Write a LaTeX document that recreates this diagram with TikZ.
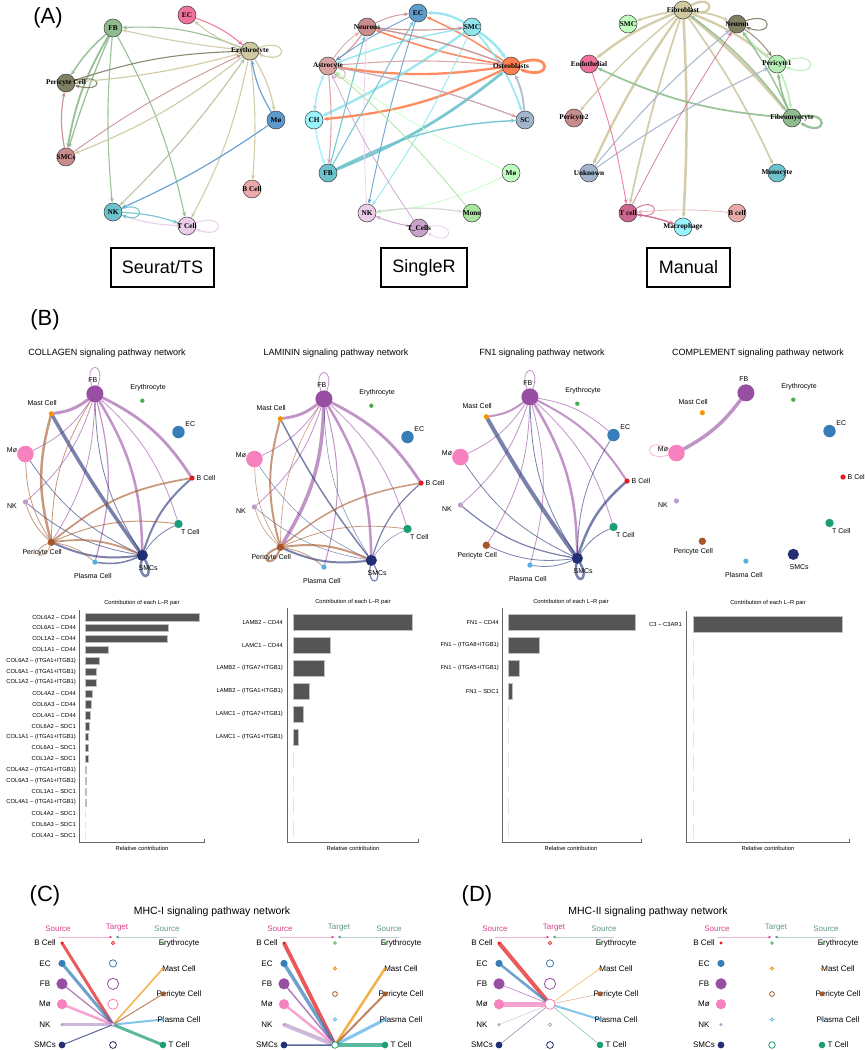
\documentclass[tikz,border=0pt]{standalone}
\usepackage{fontspec}
\setmainfont{Liberation Sans}
\newfontfamily\tnrfont{Liberation Serif}
\usetikzlibrary{arrows.meta,calc,positioning,backgrounds}
% cell type palette (B--D)
\definecolor{cb}{HTML}{E41A1C}
\definecolor{cec}{HTML}{377EB8}
\definecolor{cery}{HTML}{4DAF4A}
\definecolor{cfb}{HTML}{984EA3}
\definecolor{cmast}{HTML}{F29403}
\definecolor{cmo}{HTML}{F781BF}
\definecolor{cnk}{HTML}{BC9DCC}
\definecolor{cper}{HTML}{A65628}
\definecolor{cpla}{HTML}{54B0E4}
\definecolor{csmc}{HTML}{222F75}
\definecolor{ct}{HTML}{1B9E77}
% igraph colours (A)
\definecolor{aGreen}{HTML}{8FBC8F}
\definecolor{aPink}{HTML}{F0729A}
\definecolor{aTan}{HTML}{CFC9A0}
\definecolor{aOlive}{HTML}{807F63}
\definecolor{aBlue}{HTML}{5B9BD0}
\definecolor{aRose}{HTML}{C98C8C}
\definecolor{aBlush}{HTML}{EBA9A9}
\definecolor{aTeal}{HTML}{6CC3CC}
\definecolor{aLilac}{HTML}{EBCDEB}
\definecolor{aSteel}{HTML}{5E9CCB}
\definecolor{aCyan}{HTML}{8EE5EE}
\definecolor{aAqua}{HTML}{98F5FF}
\definecolor{aRoseB}{HTML}{D9A3A3}
\definecolor{aCoral}{HTML}{FF7F50}
\definecolor{aSlate}{HTML}{A2B5CD}
\definecolor{aMint}{HTML}{C1FFC1}
\definecolor{aMoss}{HTML}{A8E6A0}
\definecolor{aMauve}{HTML}{C8A2C8}
\definecolor{aPale}{HTML}{B4EEB4}
\definecolor{aRaspb}{HTML}{CD6690}
\definecolor{srcpink}{HTML}{D9418E}
\definecolor{srcteal}{HTML}{5F9A8F}
\definecolor{barfill}{HTML}{555555}
% fonts
\newcommand\panelfont{\fontsize{22}{26}\selectfont}
\newcommand\methodfont{\fontsize{18}{21}\selectfont}
\newcommand\annfont{\tnrfont\bfseries\fontsize{7.3}{8}\selectfont}
\newcommand\netfont{\fontsize{7}{8}\selectfont}
\newcommand\titlefont{\fontsize{9}{11}\selectfont}
\newcommand\barfont{\fontsize{5.8}{7}\selectfont}
\newcommand\hierfont{\fontsize{8}{9.5}\selectfont}
\newcommand\hiertitlefont{\fontsize{10.5}{12}\selectfont}
\tikzset{
  panel/.style={font=\panelfont,inner sep=0pt},
  method/.style={draw,line width=1.1pt,minimum width=#1,minimum height=39pt,font=\methodfont,inner sep=0pt},
  anode/.style={circle,draw=black!75,line width=0.5pt,fill=#1,minimum size=18pt,inner sep=0pt},
  alab/.style={font=\annfont,inner sep=0pt},
  aedge/.style={draw=#1,opacity=0.9,line width=1.1pt,->},
  nettitle/.style={font=\titlefont,inner sep=0pt},
  cnode/.style={circle,fill=#1,inner sep=0pt},
  clab/.style={font=\netfont,inner sep=0pt},
  bedge/.style={draw=#1,opacity=0.6,line cap=round},
  bartitle/.style={font=\barfont,inner sep=0pt},
  barlab/.style={font=\barfont,inner sep=0pt,anchor=east},
  bar/.style={fill=barfill,draw=black!25,line width=0.4pt},
  faintbar/.style={fill=black!10},
  axisline/.style={draw=black!60,line width=0.7pt},
  srcdot/.style={circle,fill=#1,inner sep=0pt},
  tgtdot/.style={circle,draw=#1,fill=white,line width=0.8pt,inner sep=0pt},
  hlab/.style={font=\hierfont,inner sep=0pt},
  hhead/.style={font=\hierfont,inner sep=0pt,text=#1},
  hedge/.style={draw=#1,opacity=0.72},
  pinkarrow/.style={draw=srcpink!40,line width=1pt,-{Latex[length=3pt,width=3pt,color=srcpink]}},
  tealarrow/.style={draw=srcteal!45,line width=1pt,-{Latex[length=3pt,width=3pt,color=srcteal]}},
}
\begin{document}
\begin{tikzpicture}[x=1pt,y=-1pt,>={Stealth[length=5pt,width=4pt]}]
\useasboundingbox (0,0) rectangle (865,1050);
\begin{scope}[on background layer]
\fill[white] (0,0) rectangle (865,1050);
\end{scope}

%% (A) networks from three annotations
\node[panel] (lab-a) at (48,18) {(A)};
% Seurat/TS
\node[anode=aGreen,label={[alab]center:FB}] (sfb) at (113,28) {};
\node[anode=aPink,label={[alab]center:EC}] (sec) at (187,15) {};
\node[anode=aTan,label={[alab]center:Erythrocyte}] (sery) at (250,51) {};
\node[anode=aOlive,label={[alab]center:Pericyte Cell}] (sper) at (66,83) {};
\node[anode=aBlue,label={[alab]center:Mø}] (smo) at (276,120) {};
\node[anode=aRose,label={[alab]center:SMCs}] (ssmc) at (66,157) {};
\node[anode=aBlush,label={[alab]center:B Cell}] (sb) at (252,189) {};
\node[anode=aTeal,label={[alab]center:NK}] (snk) at (113,212) {};
\node[anode=aLilac,label={[alab]center:T Cell}] (st) at (187,226) {};
\node[method=103pt] (box-seurat) at (162.5,267.5) {Seurat/TS};
% SingleR
\node[anode=aSteel,label={[alab]center:EC}] (rec) at (418,13) {};
\node[anode=aRose,label={[alab]center:Neurons}] (rneu) at (367,27) {};
\node[anode=aCyan,label={[alab]center:SMC}] (rsmc) at (472,27) {};
\node[anode=aRoseB,label={[alab]center:Astrocyte}] (rast) at (328,66) {};
\node[anode=aCoral,label={[alab]center:Osteoblasts}] (rost) at (511,66) {};
\node[anode=aAqua,label={[alab]center:CH}] (rch) at (314,120) {};
\node[anode=aSlate,label={[alab]center:SC}] (rsc) at (525,120) {};
\node[anode=aTeal,label={[alab]center:FB}] (rfb) at (328,173) {};
\node[anode=aMint,label={[alab]center:Mø}] (rmo) at (511,173) {};
\node[anode=aLilac,label={[alab]center:NK}] (rnk) at (367,213) {};
\node[anode=aMoss,label={[alab]center:Mono}] (rmono) at (472,213) {};
\node[anode=aMauve,label={[alab]center:T\_Cells}] (rt) at (419,228) {};
\node[method=86pt] (box-singler) at (424,267.5) {SingleR};
% Manual
\node[anode=aTan,label={[alab]center:Fibroblast}] (mfib) at (683,10) {};
\node[anode=aMint,label={[alab]center:SMC}] (msmc) at (628,24) {};
\node[anode=aOlive,label={[alab]center:Neuron}] (mneu) at (737,24) {};
\node[anode=aPink,label={[alab]center:Endothelial}] (mendo) at (589,64) {};
\node[anode=aPale,label={[alab]center:Pericyte1}] (mper1) at (777,64) {};
\node[anode=aRose,label={[alab]center:Pericyte2}] (mper2) at (574,118) {};
\node[anode=aGreen,label={[alab]center:Fibromyocyte}] (mfmy) at (792,118) {};
\node[anode=aSlate,label={[alab]center:Unknown}] (munk) at (589,173) {};
\node[anode=aTeal,label={[alab]center:Monocyte}] (mmono) at (777,173) {};
\node[anode=aRaspb,label={[alab]center:T cell}] (mt) at (628,213) {};
\node[anode=aBlush,label={[alab]center:B cell}] (mb) at (737,213) {};
\node[anode=aAqua,label={[alab]center:Macrophage}] (mmac) at (683,227) {};
\node[method=83pt] (box-manual) at (688.5,267.5) {Manual};

\begin{scope}[on background layer]
% Seurat/TS edges
\draw[aedge=aGreen,line width=1.5pt] (sfb) to[bend right=8] (sper);
\draw[aedge=aGreen,line width=1.9pt] (sfb) to[bend right=10] (ssmc);
\draw[aedge=aGreen,line width=1.3pt] (sfb) to[bend right=3] (ssmc);
\draw[aedge=aGreen] (sfb) to[bend right=5] (snk);
\draw[aedge=aGreen] (sfb) to[bend left=8] (st);
\draw[aedge=aGreen] (sery) to[bend right=12] (sfb);
\draw[aedge=aTan] (sery) to[bend left=3] (sfb);
\draw[aedge=aPink] (sec) to[bend left=10] (sery);
\draw[aedge=aTan] (sery) to[bend left=10] (sec);
\draw[aedge=aTan] (sery) to[out=20,in=-20,min distance=32pt] (sery);
\draw[aedge=aOlive] (sper) to[out=15,in=-15,min distance=30pt] (sper);
\draw[aedge=aTan,line width=1.2pt] (sery) to[bend left=5] (sper);
\draw[aedge=aOlive] (sper) to[bend left=8] (sery);
\draw[aedge=aRose,line width=1.2pt] (ssmc) to[bend left=10] (sper);
\draw[aedge=aRose,line width=0.9pt] (ssmc) to[bend left=5] (sery);
\draw[aedge=aTan,line width=1.2pt] (sery) to[bend left=8] (ssmc);
\draw[aedge=aTeal,line width=0.8pt] (snk) to[bend right=5] (sery);
\draw[aedge=aTan] (sery) to[bend left=5] (snk);
\draw[aedge=aBlue,line width=1.2pt] (smo) to[bend left=10] (sery);
\draw[aedge=aTan,line width=1.2pt] (sery) to[bend left=10] (smo);
\draw[aedge=aTan] (sery) to[bend left=5] (sb);
\draw[aedge=aTan] (sery) to[bend left=8] (st);
\draw[aedge=aBlue,line width=1.2pt] (smo) to[bend left=5] (snk);
\draw[aedge=aTeal,line width=1.2pt] (snk) to[bend left=8] (st);
\draw[aedge=aLilac,line width=1.2pt] (st) to[bend left=8] (snk);
\draw[aedge=aTeal] (snk) to[out=20,in=-20,min distance=25pt] (snk);
\draw[aedge=aLilac] (st) to[out=20,in=-20,min distance=32pt] (st);
% SingleR edges
\draw[aedge=aCoral,line width=2.8pt] (rost) to[out=20,in=-20,min distance=35pt] (rost);
\draw[aedge=aCoral,line width=2.3pt] (rost) to[bend left=8] (rast);
\draw[aedge=aCoral,line width=2.3pt] (rost) to[bend left=10] (rch);
\draw[aedge=aCoral,line width=1.7pt] (rost) to[bend left=5] (rneu);
\draw[aedge=aCoral,line width=1.5pt] (rost) to[bend right=5] (rec);
\draw[aedge=aCyan,line width=2.5pt] (rsmc) to[bend left=10] (rost);
\draw[aedge=aCyan,line width=2.3pt] (rsmc) to[bend left=5] (rch);
\draw[aedge=aCyan,line width=2.3pt] (rsmc) to[bend right=15] (rec);
\draw[aedge=aCyan,line width=1.4pt] (rsmc) to[bend right=5] (rast);
\draw[aedge=aCyan,line width=0.9pt] (rsmc) to[bend left=5] (rnk);
\draw[aedge=aCyan,line width=1.7pt] (rsmc) to[bend left=10] (rsc);
\draw[aedge=aTeal,line width=2.8pt] (rfb) to[bend right=8] (rost);
\draw[aedge=aTeal,line width=1.4pt] (rfb) to[bend left=12] (rsc);
\draw[aedge=aTeal] (rfb) to (rneu);
\draw[aedge=aTeal] (rfb) to (rec);
\draw[aedge=aSlate,line width=1.7pt] (rsc) to[bend right=10] (rost);
\draw[aedge=aSlate] (rsc) to[bend right=5] (rast);
\draw[aedge=aRoseB,line width=0.9pt] (rast) to[bend left=5] (rsc);
\draw[aedge=aRoseB,line width=0.9pt] (rast) to[bend left=10] (rneu);
\draw[aedge=aRoseB,line width=0.9pt] (rast) to[bend right=10] (rch);
\draw[aedge=aRoseB] (rast) to[bend left=5] (rfb);
\draw[aedge=aRoseB,line width=0.9pt] (rast) to[out=-10,in=-50,min distance=15pt] (rast);
\draw[aedge=aRoseB] (rast) to[bend left=5] (rost);
\draw[aedge=aRose] (rneu) to[bend left=10] (rast);
\draw[aedge=aRose] (rneu) to[bend right=5] (rsmc);
\draw[aedge=aRose,line width=1.4pt] (rneu) to[bend left=5] (rost);
\draw[aedge=aRose,line width=0.9pt] (rneu) to[bend left=10] (rec);
\draw[aedge=aSteel,line width=0.9pt] (rec) to[bend right=3] (rnk);
\draw[aedge=aSteel,line width=0.9pt] (rec) to[bend right=5] (rast);
\draw[aedge=aAqua,line width=1.4pt] (rch) to[bend left=10] (rast);
\draw[aedge=aAqua,line width=1.4pt] (rch) to[bend right=5] (rfb);
\draw[aedge=aMint,line width=0.8pt] (rmo) to[bend left=5] (rast);
\draw[aedge=aMint,line width=0.8pt] (rmo) to[bend left=10] (rnk);
\draw[aedge=aMoss,line width=0.9pt] (rmono) to[bend right=5] (rast);
\draw[aedge=aMoss,line width=0.9pt] (rmono) to[bend right=8] (rnk);
\draw[aedge=aLilac,line width=0.8pt] (rnk) to[bend left=8] (rmono);
\draw[aedge=aLilac,line width=0.8pt] (rnk) to[bend left=3] (rneu);
\draw[aedge=aLilac,line width=0.8pt] (rnk) to[bend right=5] (rt);
\draw[aedge=aMauve,line width=0.8pt] (rt) to[bend left=5] (rast);
\draw[aedge=aMauve,line width=0.8pt] (rt) to[bend left=5] (rnk);
\draw[aedge=aLilac,line width=0.8pt] (rt) to[out=10,in=-30,min distance=30pt] (rt);
% Manual edges
\draw[aedge=aTan,line width=1.7pt] (mfib) to[bend right=5] (msmc);
\draw[aedge=aTan,line width=1.7pt] (mfib) to[bend left=8] (mneu);
\draw[aedge=aTan,line width=2.3pt] (mfib) to[bend right=8] (mendo);
\draw[aedge=aTan,line width=1.4pt] (mfib) to[bend right=5] (mper2);
\draw[aedge=aTan,line width=2.3pt] (mfib) to[bend right=5] (munk);
\draw[aedge=aTan,line width=1.7pt] (mfib) to[bend right=3] (mt);
\draw[aedge=aTan,line width=2.5pt] (mfib) to[bend left=3] (mmac);
\draw[aedge=aTan,line width=1.7pt] (mfib) to[bend left=5] (mmono);
\draw[aedge=aTan,line width=2.3pt] (mfib) to[bend left=8] (mper1);
\draw[aedge=aTan,line width=2.8pt] (mfib) to[bend left=5] (mfmy);
\draw[aedge=aTan,line width=2.3pt] (mfib) to[out=30,in=-10,min distance=25pt] (mfib);
\draw[aedge=aOlive] (mneu) to[out=20,in=-20,min distance=30pt] (mneu);
\draw[aedge=aOlive,line width=0.9pt] (mneu) to[bend left=10] (mper1);
\draw[aedge=aPale,line width=1.4pt] (mper1) to[bend left=8] (mneu);
\draw[aedge=aPale] (mper1) to[out=20,in=-20,min distance=35pt] (mper1);
\draw[aedge=aPale,line width=1.7pt] (mper1) to[bend left=8] (mfmy);
\draw[aedge=aGreen,line width=1.7pt] (mfmy) to[bend left=8] (mper1);
\draw[aedge=aGreen,line width=1.4pt] (mfmy) to[bend right=5] (mneu);
\draw[aedge=aGreen,line width=1.4pt] (mfmy) to[bend right=8] (mfib);
\draw[aedge=aGreen,line width=1.7pt] (mfmy) to[bend left=10] (mendo);
\draw[aedge=aGreen,line width=2.3pt] (mfmy) to[out=10,in=-30,min distance=30pt] (mfmy);
\draw[aedge=aSlate] (munk) to[bend left=5] (mneu);
\draw[aedge=aSlate] (munk) to[bend left=5] (mper1);
\draw[aedge=aPink,line width=0.9pt] (mendo) to[bend left=5] (mt);
\draw[aedge=aRaspb,line width=0.7pt] (mt) to[bend left=3] (mneu);
\draw[aedge=aRaspb,line width=0.9pt] (mt) to[out=30,in=-10,min distance=25pt] (mt);
\draw[aedge=aRaspb,line width=1.4pt] (mt) to[bend left=5] (mmac);
\draw[aedge=aBlush,line width=0.7pt] (mb) to[bend right=5] (mt);
\end{scope}

%% (B) circle plots per pathway
\node[panel] (lab-b) at (45,320) {(B)};
\foreach \k/\cx/\cy/\ttl in {col/107/478/COLLAGEN,lam/336/483/LAMININ,fn/542/481/FN1,cmp/758/477/COMPLEMENT}{
  \coordinate (\k-c) at (\cx,\cy);
  \node[nettitle] (\k-title) at (\cx,353) {\ttl\ signaling pathway network};
  \foreach \n/\i/\r/\lab in {b/0/2.6/B Cell,ec/1/6.2/EC,ery/2/2.2/Erythrocyte,fb/3/8.5/FB,mast/4/2.6/Mast Cell,mo/5/8.3/Mø,nk/6/2.6/NK,per/7/3.7/Pericyte Cell,pla/8/2.6/Plasma Cell,smc/9/5.6/SMCs,t/10/4.2/T Cell}{
    \pgfmathsetmacro\ang{\i*360/11}
    \node[cnode=c\n,minimum size=\r*2pt] (\k-\n) at ($(\k-c)+(\ang:85pt)$) {};
    \node[clab] (\k-\n-lab) at ($(\k-c)+(\ang:99pt)$) {\lab};
  }
}
\begin{scope}[on background layer]
% COLLAGEN
\foreach \t/\w in {mast/3,mo/0.8,nk/0.8,per/0.8,pla/1.2,smc/2.5,t/0.8,b/2.8}
  \draw[bedge=cfb,line width=\w pt] (col-fb) to[bend left=15] (col-\t);
\foreach \t/\w in {mo/0.8,nk/0.8,per/2,pla/1.5,t/0.8,b/2,fb/0.8}
  \draw[bedge=csmc,line width=\w pt] (col-smc) to[bend left=15] (col-\t);
\draw[bedge=csmc,line width=3.5pt] (col-smc) to[bend left=3] (col-mast);
\foreach \t/\w in {mast/2.5,mo/0.8,nk/0.8,fb/0.8,b/1.8,t/1,smc/1.8,pla/0.8}
  \draw[bedge=cper,line width=\w pt] (col-per) to[bend left=15] (col-\t);
\draw[bedge=cfb,line width=0.8pt] (col-fb) to[out=70,in=110,min distance=26pt] (col-fb);
\draw[bedge=csmc,line width=2.5pt] (col-smc) to[out=-60,in=-100,min distance=22pt] (col-smc);
\draw[bedge=cper,line width=0.8pt] (col-per) to[out=-110,in=-160,min distance=20pt] (col-per);
% LAMININ
\foreach \t/\w in {mast/2.8,mo/0.8,nk/0.8,per/3.5,pla/1,smc/2.5,t/0.8,b/2.8}
  \draw[bedge=cfb,line width=\w pt] (lam-fb) to[bend left=15] (lam-\t);
\foreach \t/\w in {mo/0.5,nk/0.5,per/2,t/0.5,b/1.2,fb/0.5}
  \draw[bedge=csmc,line width=\w pt] (lam-smc) to[bend left=15] (lam-\t);
\draw[bedge=csmc,line width=1.5pt] (lam-smc) to[bend left=5] (lam-mast);
\foreach \t/\w in {mast/2,mo/0.6,nk/0.6,fb/0.6,b/1.5,t/0.8,smc/2,pla/0.8}
  \draw[bedge=cper,line width=\w pt] (lam-per) to[bend left=15] (lam-\t);
\draw[bedge=cfb,line width=0.8pt] (lam-fb) to[out=70,in=110,min distance=26pt] (lam-fb);
\draw[bedge=csmc,line width=1.2pt] (lam-smc) to[out=-60,in=-100,min distance=22pt] (lam-smc);
\draw[bedge=cper,line width=2.2pt] (lam-per) to[out=-110,in=-160,min distance=22pt] (lam-per);
% FN1
\foreach \t/\w in {mast/2,mo/0.8,nk/0.8,per/0.8,pla/0.8,smc/2.5,t/0.8,b/2,ec/0.8}
  \draw[bedge=cfb,line width=\w pt] (fn-fb) to[bend left=15] (fn-\t);
\foreach \t/\w in {mo/0.8,nk/1.2,per/0.8,pla/0.8,t/0.8,b/2.5,ec/0.8,fb/0.8}
  \draw[bedge=csmc,line width=\w pt] (fn-smc) to[bend left=15] (fn-\t);
\draw[bedge=csmc,line width=4pt] (fn-smc) to[bend left=3] (fn-mast);
\draw[bedge=cfb,line width=0.8pt] (fn-fb) to[out=70,in=110,min distance=26pt] (fn-fb);
\draw[bedge=csmc,line width=2.5pt] (fn-smc) to[out=-60,in=-100,min distance=22pt] (fn-smc);
% COMPLEMENT
\draw[bedge=cfb,line width=3.5pt] (cmp-fb) to[bend left=12] (cmp-mo);
\draw[bedge=cmo,line width=0.8pt] (cmp-mo) to[out=150,in=195,min distance=28pt] (cmp-mo);
\end{scope}

% contribution of each L-R pair
\draw[axisline] (79,610) -- (79,842) -- (204,842) -- (204,839);
\node[bartitle] (col-bt) at (142,603) {Contribution of each L--R pair};
\node[bartitle] (col-bx) at (142,848) {Relative contribution};
\foreach \lab/\len [count=\i from 0] in {COL6A2 -- CD44/114,COL6A1 -- CD44/83,COL1A2 -- CD44/82,COL1A1 -- CD44/23,COL6A2 -- (ITGA1+ITGB1)/14,COL6A1 -- (ITGA1+ITGB1)/11,COL1A2 -- (ITGA1+ITGB1)/11,COL4A2 -- CD44/7,COL6A3 -- CD44/6,COL4A1 -- CD44/5.5,COL6A2 -- SDC1/4,COL1A1 -- (ITGA1+ITGB1)/3,COL6A1 -- SDC1/3,COL1A2 -- SDC1/3,COL4A2 -- (ITGA1+ITGB1)/1,COL6A3 -- (ITGA1+ITGB1)/1,COL1A1 -- SDC1/1,COL4A1 -- (ITGA1+ITGB1)/1}{
  \path[bar] (85,{617+10.9*\i-3.6}) rectangle ++(\len,7.3);
  \node[barlab] (col-r\i) at (76,{617+10.9*\i}) {\lab};
}
\foreach \lab [count=\i from 18] in {COL4A2 -- SDC1,COL6A3 -- SDC1,COL4A1 -- SDC1}{
  \path[faintbar] (85,{617+10.9*\i-3.6}) rectangle ++(1,7.3);
  \node[barlab] (col-r\i) at (76,{617+10.9*\i}) {\lab};
}
\draw[axisline] (287,608) -- (287,842) -- (418,842) -- (418,839);
\node[bartitle] (lam-bt) at (353,602) {Contribution of each L--R pair};
\node[bartitle] (lam-bx) at (353,848) {Relative contribution};
\foreach \lab/\len [count=\i from 0] in {LAMB2 -- CD44/119,LAMC1 -- CD44/37,LAMB2 -- (ITGA7+ITGB1)/31,LAMB2 -- (ITGA1+ITGB1)/16,LAMC1 -- (ITGA7+ITGB1)/10,LAMC1 -- (ITGA1+ITGB1)/5}{
  \path[bar] (293,{622+23*\i-8}) rectangle ++(\len,16);
  \node[barlab] (lam-r\i) at (283,{622+23*\i}) {\lab};
}
\foreach \i in {6,...,9} \path[faintbar] (293,{622+23*\i-8}) rectangle ++(1.2,16);
\draw[axisline] (502,608) -- (502,842) -- (641,842) -- (641,839);
\node[bartitle] (fn-bt) at (571,602) {Contribution of each L--R pair};
\node[bartitle] (fn-bx) at (571,848) {Relative contribution};
\foreach \lab/\len [count=\i from 0] in {FN1 -- CD44/127,FN1 -- (ITGA8+ITGB1)/31,FN1 -- (ITGA5+ITGB1)/11,FN1 -- SDC1/4}{
  \path[bar] (508,{622+23*\i-8}) rectangle ++(\len,16);
  \node[barlab] (fn-r\i) at (499,{622+23*\i}) {\lab};
}
\foreach \i in {4,...,9} \path[faintbar] (508,{622+23*\i-8}) rectangle ++(1.2,16);
\draw[axisline] (686,611) -- (686,842) -- (849,842) -- (849,839);
\node[bartitle] (cmp-bt) at (768,603) {Contribution of each L--R pair};
\node[bartitle] (cmp-bx) at (768,848) {Relative contribution};
\path[bar] (693,616) rectangle ++(149,16);
\node[barlab] (cmp-r0) at (682,624) {C3 -- C3AR1};
\foreach \i in {1,...,9} \path[faintbar] (693,{624+23*\i-8}) rectangle ++(1.2,16);

%% (C), (D) hierarchy plots for MHC pathways
\node[panel] (lab-c) at (45,896) {(C)};
\node[panel] (lab-d) at (477,896) {(D)};
\node[font=\hiertitlefont] (hc-title) at (212,912) {MHC-I signaling pathway network};
\node[font=\hiertitlefont] (hd-title) at (648,912) {MHC-II signaling pathway network};
\foreach \p/\x/\tc in {hc1/62/srcpink,hc2/284/srcteal,hd1/499/srcpink,hd2/721/srcteal}{
  \node[hhead=srcpink] (\p-hs1) at (\x-4,929) {Source};
  \node[hhead=\tc] (\p-ht) at (\x+55,928) {Target};
  \node[hhead=srcteal] (\p-hs2) at (\x+105,929) {Source};
  \coordinate (\p-a1) at (\x-4,937); \coordinate (\p-a2) at (\x+50.5,937);
  \coordinate (\p-a3) at (\x+115,937); \coordinate (\p-a4) at (\x+53.5,937);
  \draw[pinkarrow] (\p-a1) -- (\p-a2);
  \draw[tealarrow] (\p-a3) -- (\p-a4);
  \foreach \n/\lab/\r [count=\j from 0] in {b/B Cell/1.6,ec/EC/3.6,fb/FB/5.6,mo/Mø/5.1,nk/NK/1.7,smc/SMCs/3.4}{
    \node[hlab] (\p-\n-lab) at (\x-17,{943+20.4*\j}) {\lab};
    \node[srcdot=c\n,minimum size=\r*2pt] (\p-\n) at (\x,{943+20.4*\j}) {};
  }
  \foreach \n/\lab/\r [count=\j from 0] in {ery/Erythrocyte/1.4,mast/Mast Cell/1.5,per/Pericyte Cell/2.4,pla/Plasma Cell/1.6,t/T Cell/3.3}{
    \node[hlab] (\p-\n-lab) at (\x+117,{943+25.5*\j}) {\lab};
    \node[srcdot=c\n,minimum size=\r*2pt] (\p-\n) at (\x+101,{943+25.5*\j}) {};
  }
}
\foreach \p/\x in {hc1/62,hd1/499}
  \foreach \n/\r [count=\j from 0] in {b/1.6,ec/3.6,fb/5.6,mo/5.1,nk/1.7,smc/3.4}
    \node[tgtdot=c\n,minimum size=\r*2pt] (\p-\n-t) at (\x+51,{943+20.4*\j}) {};
\foreach \p/\x in {hc2/284,hd2/721}
  \foreach \n/\r [count=\j from 0] in {ery/1.4,mast/1.5,per/2.4,pla/1.6,t/3.3}
    \node[tgtdot=c\n,minimum size=\r*2pt] (\p-\n-t) at (\x+51,{943+25.5*\j}) {};
\begin{scope}[on background layer]
\foreach \n/\w in {b/3,ec/3,fb/1.3,mo/2.5,nk/3,smc/1,mast/1.5,per/1,pla/2,t/3}
  \draw[hedge=c\n,line width=\w pt] (hc1-\n.center) -- (hc1-nk-t.center);
\foreach \n/\w in {b/4,ec/3.5,fb/1.5,mo/2.5,nk/4,smc/1.5,mast/2.5,per/2,pla/3,t/4}
  \draw[hedge=c\n,line width=\w pt] (hc2-\n.center) -- (hc2-t-t.center);
\foreach \n/\w in {b/4,ec/2.5,fb/0.6,mo/5,nk/0.4,smc/0.4,mast/0.5,per/0.3,pla/2,t/0.4}
  \draw[hedge=c\n,line width=\w pt] (hd1-\n.center) -- (hd1-mo-t.center);
\end{scope}
\end{tikzpicture}
\end{document}
